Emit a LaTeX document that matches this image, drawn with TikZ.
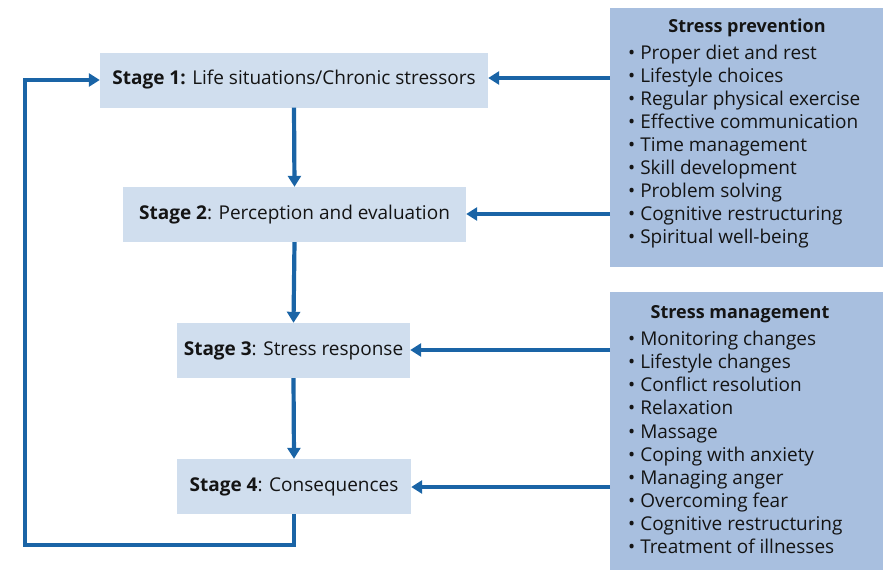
\documentclass[tikz,border=0pt]{standalone}
\usepackage{fontspec}
\setmainfont{Open Sans}
\usetikzlibrary{arrows.meta}
\definecolor{arrblue}{HTML}{1A64A6}
\definecolor{stagefill}{HTML}{D0DEEE}
\definecolor{sidefill}{HTML}{A8BFDF}
\definecolor{txt}{HTML}{141414}
\begin{document}
\begin{tikzpicture}[x=1pt,y=-1pt,
  stagebox/.style={fill=stagefill, minimum height=55pt, inner sep=0pt, text=txt, font=\fontsize{19}{22}\selectfont},
  sidebox/.style={fill=sidefill, inner sep=0pt, anchor=north west},
  sidetitle/.style={anchor=north, text=txt, font=\fontsize{18}{22}\selectfont\bfseries},
  sidelist/.style={anchor=north west, align=left, inner sep=0pt, text=txt, font=\fontsize{19}{23.1}\selectfont},
  conn/.style={draw=arrblue, line width=4.2pt},
  arr/.style={conn, -{Triangle[length=11pt,width=13pt]}}
]
\useasboundingbox (0,0) rectangle (883,570);
\node[stagebox, minimum width=388pt] (s1) at (294,80) {\textbf{Stage 1:} Life situations/Chronic stressors};
\node[stagebox, minimum width=343pt] (s2) at (294.5,214.5) {\textbf{Stage 2}: Perception and evaluation};
\node[stagebox, minimum width=233pt] (s3) at (293.5,350.5) {\textbf{Stage 3}: Stress response};
\node[stagebox, minimum width=234pt] (s4) at (294,486.5) {\textbf{Stage 4}: Consequences};

\node[sidebox, minimum width=273pt, minimum height=259pt] (prev) at (610,8) {};
\node[sidetitle] (prevt) at (747,15) {Stress prevention};
\node[sidelist] (prevl) at (628,44.5) {• Proper diet and rest\\• Lifestyle choices\\• Regular physical exercise\\• Effective communication\\• Time management\\• Skill development\\• Problem solving\\• Cognitive restructuring\\• Spiritual well-being};

\node[sidebox, minimum width=273pt, minimum height=278pt] (mgmt) at (610,292) {};
\node[sidetitle] (mgmtt) at (740,302) {Stress management};
\node[sidelist] (mgmtl) at (628,331) {• Monitoring changes\\• Lifestyle changes\\• Conflict resolution\\• Relaxation\\• Massage\\• Coping with anxiety\\• Managing anger\\• Overcoming fear\\• Cognitive restructuring\\• Treatment of illnesses};

\draw[arr] (s1.south) -- (s2.north);
\draw[arr] (s2.south) -- (s3.north);
\draw[arr] (s3.south) -- (s4.north);

\draw[arr] (prev.west |- 0,78) -- (s1.east |- 0,78);
\draw[arr] (prev.west |- 0,214) -- (s2.east |- 0,214);
\draw[arr] (mgmt.west |- 0,350) -- (s3.east |- 0,350);
\draw[arr] (mgmt.west |- 0,487) -- (s4.east |- 0,487);

\coordinate (c1) at (25,545);
\draw[arr, line join=miter] (s4.south) |- (c1) |- (s1.west);
\end{tikzpicture}
\end{document}
